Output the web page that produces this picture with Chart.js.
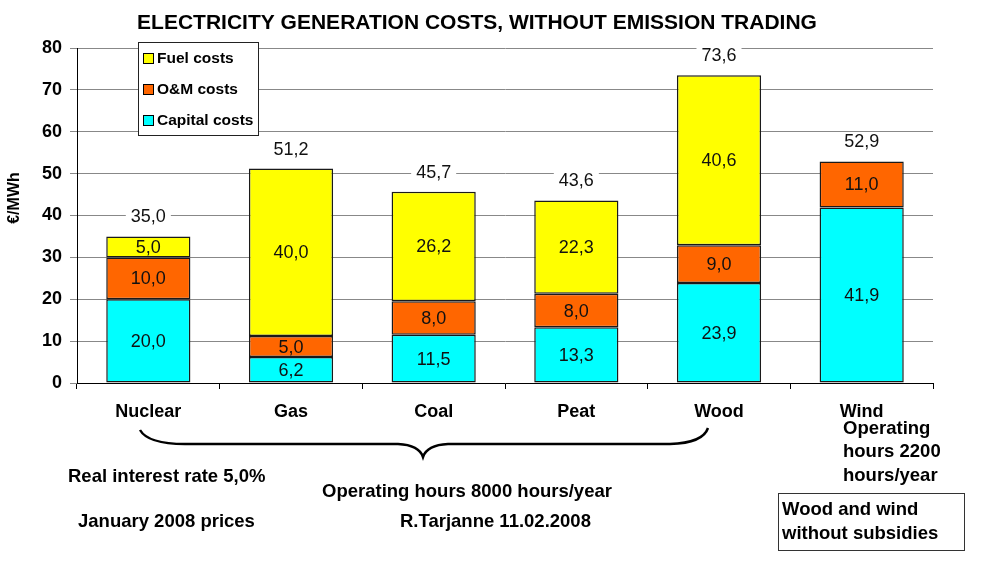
<!DOCTYPE html>
<html>
<head>
<meta charset="utf-8">
<script src="https://cdn.jsdelivr.net/npm/chart.js"></script>
<style>
  body { margin: 0; background: #fff; }
  #wrap { width: 996px; height: 577px; }
</style>
</head>
<body>
<div id="wrap"><canvas id="costChart" width="996" height="577"></canvas></div>
<script>
// data (EUR/MWh)
const categories = ['Nuclear', 'Gas', 'Coal', 'Peat', 'Wood', 'Wind'];
const capitalCosts = [20.0, 6.2, 11.5, 13.3, 23.9, 41.9];
const omCosts = [10.0, 5.0, 8.0, 8.0, 9.0, 11.0];
const fuelCosts = [5.0, 40.0, 26.2, 22.3, 40.6, null];
const totals = [35.0, 51.2, 45.7, 43.6, 73.6, 52.9];
const yMin = 0, yMax = 80, yStep = 10;

const FONT = "'Liberation Sans', Arial, sans-serif";

function fmt(v) {
    return v.toFixed(1).replace('.', ',');
}

// labels inside segments + totals on top
const valueLabels = {
    id: 'valueLabels',
    afterDatasetsDraw(chart) {
        const ctx = chart.ctx;
        ctx.save();
        ctx.font = '18px ' + FONT;
        ctx.fillStyle = '#111';
        ctx.textAlign = 'center';
        ctx.textBaseline = 'middle';
        chart.data.datasets.forEach((ds, di) => {
            const meta = chart.getDatasetMeta(di);
            meta.data.forEach((el, i) => {
                const v = ds.data[i];
                if (v === null) return;
                ctx.fillText(fmt(v), el.x, (el.y + el.base) / 2 + 1);
            });
        });
        // totals
        const y = chart.scales.y;
        const meta0 = chart.getDatasetMeta(0);
        totals.forEach((t, i) => {
            const x = meta0.data[i].x;
            const ty = y.getPixelForValue(t) - 20;
            const w = ctx.measureText(fmt(t)).width + 10;
            ctx.fillStyle = '#fff';
            ctx.fillRect(x - w / 2, ty - 9, w, 18);
            ctx.fillStyle = '#111';
            ctx.fillText(fmt(t), x, ty + 1);
        });
        ctx.restore();
    }
};

// title, axis title, legend box and notes under the chart
const decorations = {
    id: 'decorations',
    afterDraw(chart) {
        const ctx = chart.ctx;
        ctx.save();
        ctx.fillStyle = '#000';
        ctx.textBaseline = 'middle';

        // title
        ctx.font = 'bold 21px ' + FONT;
        ctx.textAlign = 'center';
        ctx.fillText('ELECTRICITY GENERATION COSTS, WITHOUT EMISSION TRADING', 477, 23);

        // y axis title
        ctx.save();
        ctx.translate(15, 198);
        ctx.rotate(-Math.PI / 2);
        ctx.font = 'bold 16px ' + FONT;
        ctx.fillText('€/MWh', 0, 0);
        ctx.restore();

        // legend
        ctx.fillStyle = '#fff';
        ctx.fillRect(138, 42, 120, 93);
        ctx.strokeStyle = '#222';
        ctx.lineWidth = 1;
        ctx.strokeRect(138.5, 42.5, 120, 93);
        const items = [2, 1, 0];
        items.forEach((di, k) => {
            const ds = chart.data.datasets[di];
            const cy = 58 + k * 31;
            ctx.fillStyle = ds.backgroundColor;
            ctx.fillRect(143, cy - 5, 10, 10);
            ctx.strokeStyle = '#000';
            ctx.strokeRect(143.5, cy - 4.5, 10, 10);
            ctx.fillStyle = '#000';
            ctx.font = 'bold 15.5px ' + FONT;
            ctx.textAlign = 'left';
            ctx.fillText(ds.label, 157, cy + 1);
        });

        // brace under Nuclear..Wood
        ctx.beginPath();
        ctx.lineWidth = 2.5;
        ctx.strokeStyle = '#000';
        ctx.moveTo(140, 430);
        ctx.quadraticCurveTo(148, 444, 185, 444);
        ctx.lineTo(398, 444);
        ctx.quadraticCurveTo(419, 445, 423, 457);
        ctx.quadraticCurveTo(427, 445, 448, 444);
        ctx.lineTo(670, 444);
        ctx.quadraticCurveTo(703, 443, 708, 428);
        ctx.stroke();

        ctx.font = 'bold 18.5px ' + FONT;
        ctx.textAlign = 'left';
        ctx.fillText('Real interest rate 5,0%', 68, 477);
        ctx.fillText('January 2008 prices', 78, 522);
        ctx.fillText('Operating hours 8000 hours/year', 322, 492);
        ctx.fillText('R.Tarjanne 11.02.2008', 400, 522);

        ctx.fillText('Operating', 843, 429);
        ctx.fillText('hours 2200', 843, 452);
        ctx.fillText('hours/year', 843, 476);

        ctx.lineWidth = 1;
        ctx.strokeStyle = '#333';
        ctx.strokeRect(778.5, 493.5, 186, 57);
        ctx.fillText('Wood and wind', 782, 510);
        ctx.fillText('without subsidies', 782, 534);
        ctx.restore();
    }
};

const ctx = document.getElementById('costChart').getContext('2d');
new Chart(ctx, {
    type: 'bar',
    data: {
        labels: categories,
        datasets: [
            { label: 'Capital costs', data: capitalCosts, backgroundColor: '#00FFFF' },
            { label: 'O&M costs', data: omCosts, backgroundColor: '#FF6600' },
            { label: 'Fuel costs', data: fuelCosts, backgroundColor: '#FFFF00' }
        ].map(d => Object.assign(d, { borderColor: '#1a1a1a', borderWidth: 1.5, borderSkipped: false }))
    },
    options: {
        responsive: false,
        animation: false,
        devicePixelRatio: 1,
        layout: { padding: { left: 0, right: 63, top: 48, bottom: 0 } },
        datasets: { bar: { categoryPercentage: 1, barPercentage: 0.59 } },
        plugins: {
            legend: { display: false },
            title: { display: false },
            tooltip: { enabled: false }
        },
        scales: {
            x: {
                stacked: true,
                afterFit(scale) { scale.height = 194; },
                grid: { drawOnChartArea: false, drawTicks: true, tickLength: 6, offset: true, color: '#000' },
                border: { color: '#000', width: 1 },
                ticks: { color: '#000', font: { family: FONT, size: 18, weight: 'bold' }, padding: 12 }
            },
            y: {
                stacked: true,
                min: yMin,
                max: yMax,
                afterFit(scale) { scale.width = 77; },
                grid: { color: '#888', tickLength: 7 },
                border: { color: '#000', width: 1 },
                ticks: { stepSize: yStep, color: '#000', font: { family: FONT, size: 18, weight: 'bold' }, padding: 8 }
            }
        }
    },
    plugins: [valueLabels, decorations]
});
</script>
</body>
</html>
